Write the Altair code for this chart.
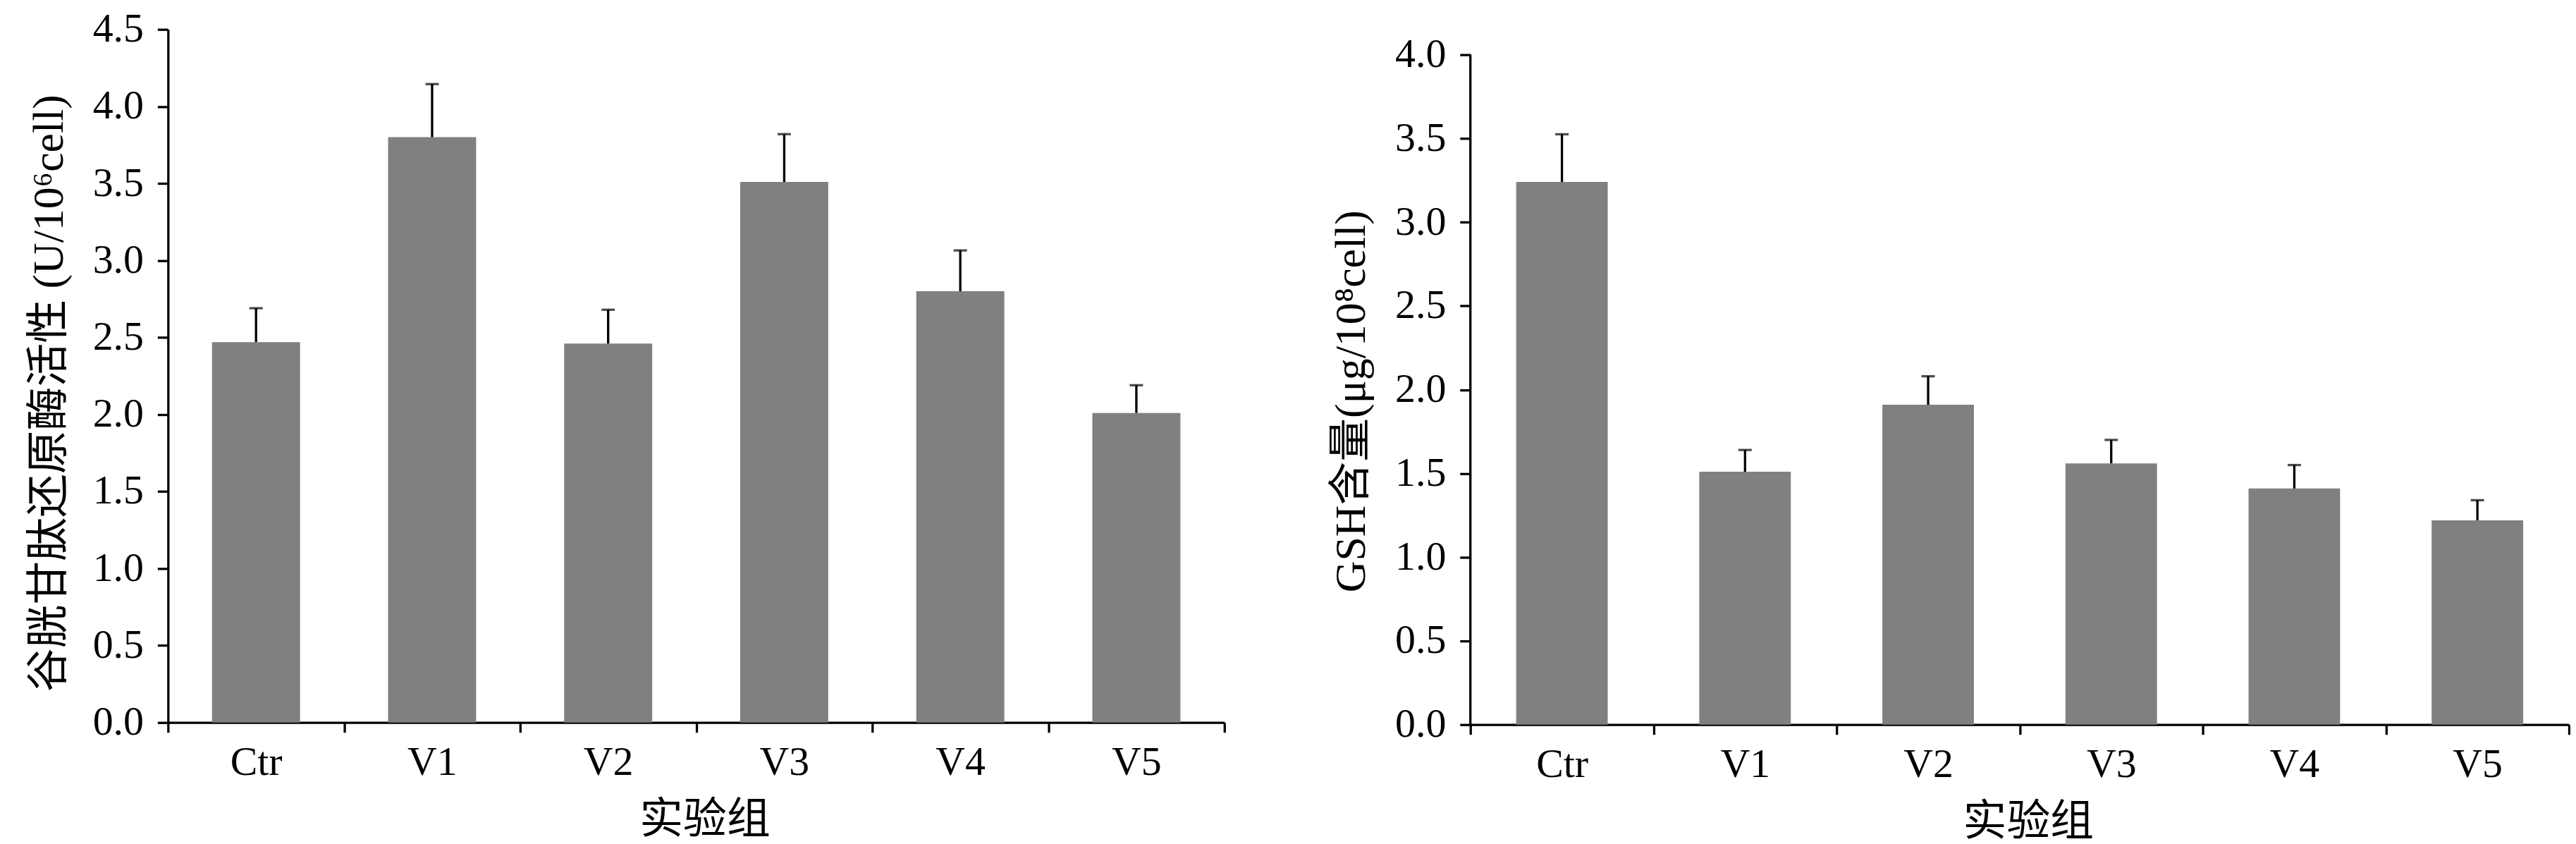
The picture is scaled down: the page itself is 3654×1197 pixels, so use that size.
import altair as alt
import pandas as pd

categories = ["Ctr", "V1", "V2", "V3", "V4", "V5"]
gr_mean = [2.47, 3.80, 2.46, 3.51, 2.80, 2.01]
gr_err = [0.22, 0.345, 0.22, 0.31, 0.265, 0.18]
gsh_mean = [3.24, 1.51, 1.91, 1.56, 1.41, 1.22]
gsh_err = [0.285, 0.13, 0.17, 0.14, 0.14, 0.12]

left_ticks = [0.0, 0.5, 1.0, 1.5, 2.0, 2.5, 3.0, 3.5, 4.0, 4.5]
right_ticks = [0.0, 0.5, 1.0, 1.5, 2.0, 2.5, 3.0, 3.5, 4.0]

left_title = "谷胱甘肽还原酶活性 (U/10⁶cell)"
right_title = "GSH含量(μg/10⁸cell)"
x_title = "实验组"

FONT = "Liberation Serif, Times New Roman, Noto Sans CJK SC"
LW = 3.3
GREY = "#808080"

df_left = pd.DataFrame({"group": categories, "mean": gr_mean, "err": gr_err})
df_right = pd.DataFrame({"group": categories, "mean": gsh_mean, "err": gsh_err})


def panel(df, ytitle, ticks, dom_max, width, height, draw_domain, ytitle_shift):
    base = alt.Chart(df).transform_calculate(upper="datum.mean + datum.err")
    x_axis = alt.Axis(title=x_title, labelAngle=0, tickBand="extent", tickSize=14,
                      labelPadding=14, titlePadding=22, titleX=width / 2 + 12)
    x = alt.X("group:N", sort=categories, axis=x_axis,
              scale=alt.Scale(paddingInner=0, paddingOuter=0))
    y_axis = alt.Axis(title=ytitle, values=ticks, format=".1f", tickSize=15,
                      labelPadding=20, titlePadding=30, domain=draw_domain,
                      titleY=height / 2 + ytitle_shift)
    y = alt.Y("mean:Q", axis=y_axis,
              scale=alt.Scale(domain=[0, dom_max], nice=False, zero=True))
    bars = base.mark_bar(color=GREY, width={"band": 0.5}).encode(x=x, y=y)
    rule = base.mark_rule(color="black", strokeWidth=LW).encode(
        x=x, y="mean:Q", y2="upper:Q")
    cap = base.mark_tick(color="black", thickness=LW, size=19).encode(
        x=x, y="upper:Q")
    layers = [bars, rule, cap]
    if not draw_domain:
        axis_line = alt.Chart(pd.DataFrame({"a": [0]})).mark_rule(
            color="black", strokeWidth=LW).encode(
            x=alt.value(0), y=alt.datum(0.0), y2=alt.datum(ticks[-1]))
        layers.append(axis_line)
    return alt.layer(*layers).properties(width=width, height=height)


left = panel(df_left, left_title, left_ticks, 4.5, 1503, 986, True, 24)
right_height = 989
right_dom = 4.0 * right_height / 953.0
right = panel(df_right, right_title, right_ticks, right_dom, 1563, right_height,
              False, 34)

chart = alt.hconcat(left, right, spacing=147).properties(
    padding={"left": 30, "top": 3, "right": 0, "bottom": 0},
    background="white",
).configure_view(strokeWidth=0).configure_axis(
    grid=False,
    domainColor="black", domainWidth=LW,
    tickColor="black", tickWidth=LW,
    labelColor="black", titleColor="black",
    labelFont=FONT, titleFont=FONT,
    labelFontSize=58, titleFontSize=62,
    titleFontWeight="normal",
)

chart.save("out.html", embed_options={"renderer": "svg", "actions": False})
